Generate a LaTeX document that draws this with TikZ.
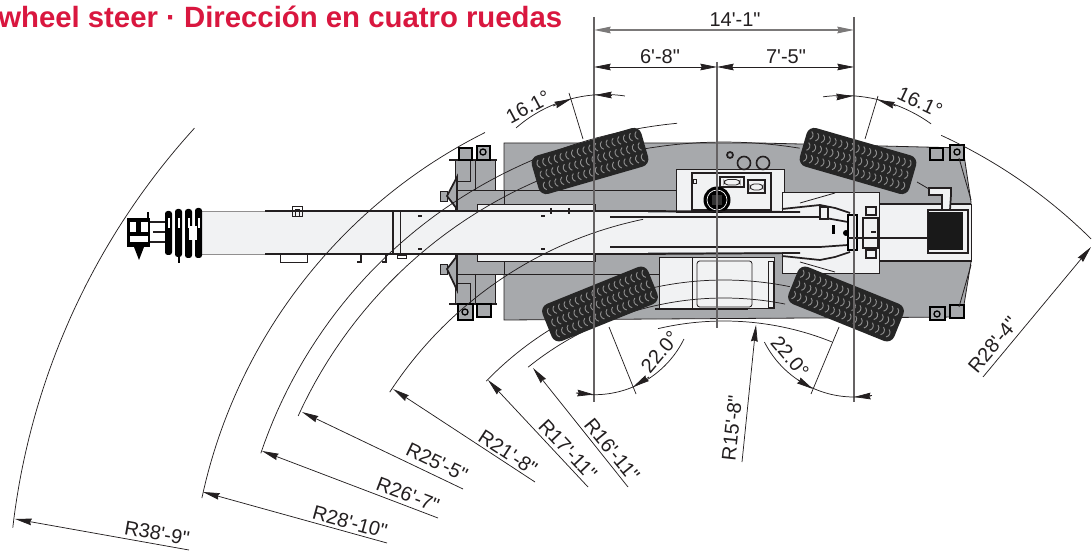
\documentclass[tikz,border=0pt]{standalone}
\usepackage{fontspec}
\usepackage{amsmath}
\usetikzlibrary{arrows.meta}
\newfontfamily\dimfont{Liberation Sans}
\definecolor{bodygrey}{HTML}{A7A9AC}
\definecolor{panelgrey}{HTML}{F1F2F3}
\definecolor{tyredark}{HTML}{262626}
\definecolor{treadgrey}{HTML}{8E8E8E}
\definecolor{titlered}{HTML}{D9173F}
\definecolor{inkdark}{HTML}{231F20}
\tikzset{
    ink/.style={draw=inkdark,line width=0.6pt},
    heavy/.style={draw=inkdark,line width=1.3pt},
    panel/.style={ink,fill=panelgrey},
    body/.style={ink,fill=bodygrey},
    arcline/.style={draw=inkdark,line width=0.55pt},
    extline/.style={draw=inkdark!70,line width=0.8pt},
    dimline/.style={arcline,-{Stealth[length=12.5pt,width=5pt,inset=1pt]}},
    twotip/.style={arcline,{Stealth[length=12.5pt,width=5pt,inset=1pt]}-{Stealth[length=12.5pt,width=5pt,inset=1pt]}},
    dimlabel/.style={font=\dimfont\fontsize{15}{15}\selectfont,text=inkdark,inner sep=0pt},
    foot/.style={draw=black,line width=1.3pt,fill=bodygrey},
    roller/.style={fill=black,rounded corners=2pt}
}
% one tyre: x, y, angle, tread direction
\newcommand{\tyre}[4]{
    \begin{scope}[shift={(#1,#2)},rotate=#3,xscale=#4]
        \fill[tyredark,rounded corners=6pt] (-57,-20) rectangle (57,20);
        \foreach \row in {-11.5,0,11.5}
            \foreach \i in {-51,-45,...,51}
                \draw[treadgrey,line width=0.7pt] (\i+1.5,\row-4) .. controls (\i-1.5,\row-2) and (\i-1.5,\row+2) .. (\i+1.5,\row+4);
    \end{scope}
}
% circular arc: centre x, centre y, radius, from angle, to angle
\newcommand{\arcat}[5]{
    \draw[arcline] plot[domain=#4:#5,samples=50] ({#1+#3*cos(\x)},{#2-#3*sin(\x)});
}
\begin{document}
\begin{tikzpicture}[x=0.75pt,y=-0.75pt]
    \useasboundingbox (0,0) rectangle (1092,552);

    % Title
    \node[anchor=base west,inner sep=0pt,text=titlered,font=\dimfont\bfseries\fontsize{22}{22}\selectfont] (title) at (-2,28) {wheel steer · Dirección en cuatro ruedas};

    % Chassis
    \draw[body] (504,143) -- (760,143) -- (963,148) -- (971,202) -- (971,262) -- (962,317) -- (504,320) -- cycle;
    \draw[body] (455,190) rectangle (504,274);
    \draw[ink] (504,190) -- (676,190);
    \draw[ink] (504,274) -- (660,274);

    % Front outriggers
    \draw[body] (455,160) rectangle (495,190);
    \draw[body] (455,274) rectangle (495,304);
    \draw[ink] (475,160) -- (475,190);
    \draw[ink] (475,274) -- (475,304);
    \draw[ink] (455,181) -- (470,181) -- (470,160);
    \draw[ink] (455,283) -- (470,283) -- (470,304);
    \draw[heavy] (449,160) -- (497,160);
    \draw[heavy] (449,304) -- (497,304);
    \draw[foot] (459,148) rectangle (472,160);
    \draw[foot] (477,146) rectangle (490,160);
    \draw[foot] (458,304) rectangle (473,320);
    \draw[foot] (477,304) rectangle (491,317);
    \draw[foot] (930,148) rectangle (943,160);
    \draw[foot] (950,145) rectangle (964,160);
    \draw[foot] (930,307) rectangle (945,320);
    \draw[foot] (950,305) rectangle (964,318);
    \foreach \fx/\fy in {483/152,465/312,957/152,937/314}
        \draw[black,line width=1pt] (\fx,\fy) circle (3);

    % Front fans
    \draw[body] (440,191) rectangle (447,201);
    \draw[body] (440,264) rectangle (447,274);
    \draw[heavy,fill=bodygrey] (457,177) -- (447,196) -- (457,209) -- cycle;
    \draw[heavy,fill=bodygrey] (457,290) -- (447,269) -- (457,256) -- cycle;
    \draw[heavy] (457,177) -- (457,290);

    % Panels along the boom
    \draw[panel] (477,204) rectangle (595,212);
    \draw[panel] (477,253) rectangle (595,261);

    % Lower cab
    \draw[panel] (659,257) rectangle (774,308);
    \draw[ink,rounded corners=2pt] (697,261) rectangle (752,307);
    \draw[ink] (692,257) -- (692,308);
    \draw[ink] (768,261) rectangle (773,307);
    \draw[heavy] (655,309) -- (748,309);

    % Upper cab
    \draw[panel] (676,169) rectangle (784,212);
    \draw[ink,line width=1pt] (692,173) rectangle (771,210);
    \draw[ink,line width=0.9pt] (720,177) rectangle (744,187);
    \draw[ink,rounded corners=3pt] (724,179.5) rectangle (740,185);
    \draw[ink,line width=0.9pt] (748,180) rectangle (765,193);
    \draw[ink,rounded corners=3pt] (750,184) rectangle (763,190);
    \draw[ink] (693,179) rectangle (696,183);
    \fill[black] (717,200) circle (13.5);
    \draw[white,line width=0.5pt] (717,200) circle (10);
    \fill[black!80] (712,195) rectangle (722,205);
    \draw[heavy] (730,155) circle (3);
    \draw[ink,line width=1.2pt] (744,163) circle (6.5);
    \draw[ink,line width=1.2pt] (763,163) circle (6.5);

    % Rear deck
    \draw[panel] (782,192) rectangle (879,273);
    \draw[panel] (879,204) rectangle (971,261);
    \draw[heavy] (971,204) -- (879,204);
    \draw[heavy] (971,261) -- (879,261);
    \draw[ink] (879,192) -- (879,273);

    % Boom
    \fill[panelgrey] (202,211) rectangle (648,254);
    \fill[panelgrey] (648,213) rectangle (850,252);
    \draw[draw=inkdark!50,line width=0.6pt] (202,211) -- (265,211);
    \draw[draw=inkdark!50,line width=0.6pt] (202,254) -- (265,254);
    \draw[heavy] (265,211) -- (648,211) -- (800,212);
    \draw[heavy] (265,254) -- (648,254) -- (800,253);
    \draw[heavy] (610,217) -- (820,217) -- (848,222);
    \draw[heavy] (610,247) -- (820,247) -- (848,245);
    \draw[line width=1.2pt,draw=inkdark] (393,211) -- (393,254);
    \draw[ink] (400,211) -- (400,254);
    \draw[ink] (292,206) rectangle (302,216);
    \draw[ink] (295,216) -- (295,209) -- (299,209) -- (299,216);
    \draw[ink] (280,255) -- (280,262) -- (307,262) -- (307,255);
    \draw[ink] (397,255) rectangle (406,258);
    \draw[heavy] (361,255) -- (361,262) -- (357,262);
    \draw[heavy] (386,255) -- (386,262) -- (382,262);
    \foreach \mx in {420,543} {
        \draw[heavy] (\mx-2,216) -- (\mx+2,216);
        \draw[heavy] (\mx-2,249) -- (\mx+2,249);
    }
    \draw[heavy] (551,208) -- (551,214);
    \draw[heavy] (569,208) -- (569,214);

    % Boom head
    \foreach \rx/\rtop/\rbot in {165/211/255,175/209/257,185/209/258,195/208/258}
        \fill[roller] (\rx,\rtop) rectangle (\rx+7,\rbot);
    \foreach \rx in {168,178,188,198}
        \fill[white] (\rx,218) rectangle (\rx+1.5,228);
    \fill[white] (189,226) rectangle (197,240);
    \draw[heavy] (150,222) -- (165,222);
    \draw[heavy] (150,242) -- (165,242);
    \draw[heavy] (153,232) -- (165,232);
    \fill[black] (127,218) rectangle (150,247);
    \fill[white] (130,222) rectangle (136,232);
    \fill[white] (141,222) rectangle (148,232);
    \fill[white] (130,236) rectangle (148,242);
    \fill[black] (134,247) -- (144,247) -- (139,260) -- cycle;
    \draw[black,line width=1.5pt] (179,250) -- (179,263);
    \draw[black,line width=1.5pt] (148,212) -- (148,218);

    % Boom end and pivot
    \draw[heavy] (782,209) -- (820,205) -- (835,208) -- (850,213);
    \draw[heavy] (782,256) -- (820,260) -- (835,257) -- (850,252);
    \draw[ink] (800,203) -- (835,193);
    \draw[ink] (800,262) -- (835,272);
    \draw[heavy,fill=panelgrey] (820,207) rectangle (828,219);
    \fill[black] (832,225) rectangle (835,234);
    \draw[line width=1.5pt,draw=black,fill=panelgrey] (848,215) rectangle (857,250);
    \fill[black] (846,233) circle (3);
    \draw[ink,line width=1pt] (863,218) rectangle (878,248);
    \draw[heavy] (866,207) rectangle (876,215);
    \draw[heavy] (866,250) rectangle (876,258);
    \draw[heavy] (871,232) -- (876,232);

    % Counterweight
    \draw[heavy] (848,238) -- (928,238);
    \draw[heavy,fill=panelgrey] (928,210) rectangle (968,253);
    \fill[black!90] (928,212) rectangle (963,250);
    \draw[heavy,fill=panelgrey] (929,188) -- (951,188) -- (951,195) -- (950,210) -- (942,210) -- (942,195) -- (929,195) -- cycle;
    \draw[ink] (917,182) -- (929,189);
    \draw[ink] (959,158) -- (971,200);
    \draw[ink] (959,307) -- (971,265);

    % Radius arcs
    \arcat{724}{610}{716}{137.7}{173.4}
    \arcat{724}{610}{534}{116.6}{167.9}
    \arcat{724}{610}{489}{95.5}{161.3}
    \arcat{724}{610}{468}{80.7}{155.5}
    \arcat{724}{610}{399}{101.7}{146.9}
    \arcat{724}{610}{330}{78.5}{136.1}
    \arcat{724}{610}{312}{78.7}{128.9}
    \arcat{724}{610}{289}{68.1}{103.2}
    \arcat{724}{610}{522}{45.3}{65.4}

    % Tyres
    \tyre{590}{161}{16.1}{1}
    \tyre{858}{161}{-16.1}{-1}
    \tyre{600}{304}{22}{1}
    \tyre{846}{304}{-22}{-1}

    % Extension lines
    \coordinate (extLtop) at (594,30);
    \coordinate (extRtop) at (854,30);
    \coordinate (extLmid) at (594,67);
    \coordinate (extCmid) at (717,67);
    \coordinate (extRmid) at (854,67);
    \draw[extline] (594,17) -- (594,402);
    \draw[extline] (854,17) -- (854,402);
    \draw[extline] (717,62) -- (717,328);

    % Width dimensions
    \draw[twotip,draw=inkdark!60,line width=0.9pt] (extLtop) -- (extRtop);
    \draw[twotip] (extLmid) -- (extCmid);
    \draw[twotip] (extCmid) -- (extRmid);
    \node[dimlabel] (widthAll) at (735,20) {14'-1"};
    \node[dimlabel] (widthL) at (660,57) {6'-8"};
    \node[dimlabel] (widthR) at (786,57) {7'-5"};

    % Steering angles
    \draw[arcline] (569,93) -- (583,139);
    \draw[arcline] (878,96) -- (865,139);
    \draw[arcline] (609,327) -- (636,394);
    \draw[arcline] (839,327) -- (811,394);
    \arcat{605}{229.5}{135}{81.5}{131.2}
    \arcat{843}{246.5}{151}{54.3}{97.6}
    \arcat{594.5}{295}{99.7}{-100.7}{-26.2}
    \arcat{854}{296.5}{100.5}{-153}{-79.7}
    \coordinate (angTLa) at (553,106);
    \coordinate (angTLb) at (571,99);
    \coordinate (angTLc) at (612,95);
    \coordinate (angTLd) at (595,95);
    \coordinate (angTRa) at (836,97);
    \coordinate (angTRb) at (853,96);
    \coordinate (angTRc) at (896,106);
    \coordinate (angTRd) at (878,100);
    \coordinate (angBLa) at (577,393);
    \coordinate (angBLb) at (594,394.5);
    \coordinate (angBLc) at (649,377);
    \coordinate (angBLd) at (633,387);
    \coordinate (angBRa) at (798,380);
    \coordinate (angBRb) at (813,389);
    \coordinate (angBRc) at (871,396);
    \coordinate (angBRd) at (854,397);
    \foreach \tail/\tip in {angTLa/angTLb,angTLc/angTLd,angTRa/angTRb,angTRc/angTRd,angBLa/angBLb,angBLc/angBLd,angBRa/angBRb,angBRc/angBRd}
        \draw[dimline] (\tail) -- (\tip);
    \node[dimlabel,rotate=28] (angleTL) at (528,107) {16.1°};
    \node[dimlabel,rotate=-25] (angleTR) at (920,102) {16.1°};
    \node[dimlabel,rotate=50] (angleBL) at (660,352) {22.0°};
    \node[dimlabel,rotate=-50] (angleBR) at (790,357) {22.0°};

    % Radius leaders
    \coordinate (tail38) at (189,550);
    \coordinate (tip38) at (15,519);
    \coordinate (tail2810) at (387,543);
    \coordinate (tip2810) at (203,492);
    \coordinate (tail26) at (438,518);
    \coordinate (tip26) at (262,451);
    \coordinate (tail25) at (463,489);
    \coordinate (tip25) at (302,412);
    \coordinate (tail21) at (535,482);
    \coordinate (tip21) at (393,389);
    \coordinate (tail17) at (588,487);
    \coordinate (tip17) at (488,380);
    \coordinate (tail16) at (628,487);
    \coordinate (tip16) at (533,368);
    \coordinate (tail15) at (742,462);
    \coordinate (tip15) at (756,325);
    \coordinate (tail284) at (983,377);
    \coordinate (tip284) at (1091,247);
    \foreach \lead in {38,2810,26,25,21,17,16,15,284}
        \draw[dimline] (tail\lead) -- (tip\lead);
    \node[dimlabel,rotate=-10] (radius38) at (157,533) {R38'-9"};
    \node[dimlabel,rotate=-15.5] (radius2810) at (350,522) {R28'-10"};
    \node[dimlabel,rotate=-20.8] (radius26) at (408,495) {R26'-7"};
    \node[dimlabel,rotate=-25.6] (radius25) at (437,462) {R25'-5"};
    \node[dimlabel,rotate=-33] (radius21) at (508,453) {R21'-8"};
    \node[dimlabel,rotate=-47] (radius17) at (568,450) {R17'-11"};
    \node[dimlabel,rotate=-51] (radius16) at (612,450) {R16'-11"};
    \node[dimlabel,rotate=84] (radius15) at (732,428) {R15'-8"};
    \node[dimlabel,rotate=50] (radius284) at (993,345) {R28'-4"};
\end{tikzpicture}
\end{document}
